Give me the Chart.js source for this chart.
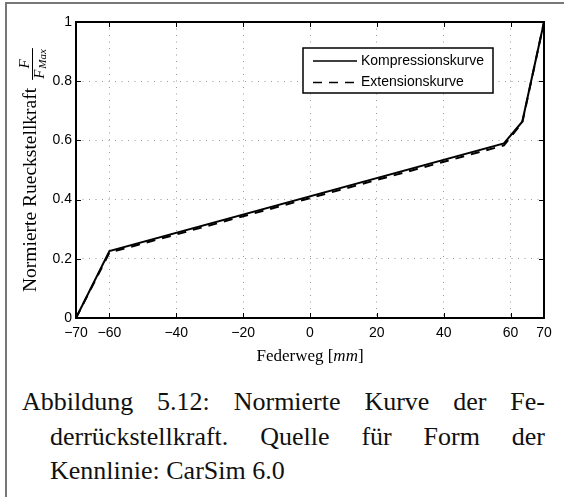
<!DOCTYPE html>
<html>
<head>
<meta charset="utf-8">
<script src="https://cdn.jsdelivr.net/npm/chart.js@4.4.0/dist/chart.umd.min.js"></script>
<style>
  body { margin: 0; background: #fff; }
  #wrap { position: relative; width: 564px; height: 497px; overflow: hidden; background: #fff; }
  #frame { position: absolute; left: 5px; top: 2px; width: 700px; height: 700px;
           border-left: 2px solid #777; border-top: 2px solid #777; }
  #chart { position: absolute; left: 0; top: 0; }
  .cap { position: absolute; font-family: "Liberation Serif", serif; font-size: 26px;
         line-height: 26px; color: #111; white-space: nowrap; }
  .just { white-space: normal; text-align: justify; text-align-last: justify; }
</style>
</head>
<body>
<div id="wrap">
  <div id="frame"></div>
  <canvas id="chart" width="564" height="370"></canvas>
  <div class="cap just" style="left:22px; top:389px; width:523px;">Abbildung 5.12: Normierte Kurve der Fe-</div>
  <div class="cap just" style="left:50px; top:424px; width:495px;">derrückstellkraft. Quelle für Form der</div>
  <div class="cap" style="left:50px; top:458px;">Kennlinie: CarSim 6.0</div>
</div>
<script>
// Federweg in mm, normierte Rueckstellkraft F/FMax
var federweg = [-70, -60, 58, 63.5, 70];
var kompression = [0, 0.226, 0.59, 0.663, 1];
var extension = [0, 0.221, 0.583, 0.66, 1];
var seriesNames = ['Kompressionskurve', 'Extensionskurve'];

var xTicks = [-70, -60, -40, -20, 0, 20, 40, 60, 70];
var yTicks = [0, 0.2, 0.4, 0.6, 0.8, 1];

function points(ys) {
  return federweg.map(function(x, i) { return { x: x, y: ys[i] }; });
}

function fmtX(v) {
  return v < 0 ? '\u2212' + (-v) : String(v);
}

var tickFont = { family: 'Liberation Sans', size: 14 };

// Matlab-like box, inward ticks, legend and the axis titles
var matlabBox = {
  id: 'matlabBox',
  afterDraw: function(chart) {
    var ctx = chart.ctx;
    var a = chart.chartArea;
    var xs = chart.scales.x, ys = chart.scales.y;
    ctx.save();

    ctx.strokeStyle = '#000';
    ctx.lineWidth = 1;
    ctx.beginPath();
    xTicks.forEach(function(v) {
      var px = Math.round(xs.getPixelForValue(v)) + 0.5;
      ctx.moveTo(px, a.bottom); ctx.lineTo(px, a.bottom - 5);
      ctx.moveTo(px, a.top); ctx.lineTo(px, a.top + 5);
    });
    yTicks.forEach(function(v) {
      var py = Math.round(ys.getPixelForValue(v)) + 0.5;
      ctx.moveTo(a.left, py); ctx.lineTo(a.left + 5, py);
      ctx.moveTo(a.right, py); ctx.lineTo(a.right - 5, py);
    });
    ctx.stroke();

    ctx.lineWidth = 2;
    ctx.strokeRect(a.left, a.top, a.right - a.left, a.bottom - a.top);

    // legend
    var lx = a.right - 241, ly = a.top + 26, lw = 190, lh = 45;
    ctx.fillStyle = '#fff';
    ctx.fillRect(lx, ly, lw, lh);
    ctx.lineWidth = 1.5;
    ctx.strokeRect(lx, ly, lw, lh);
    ctx.font = '14px "Liberation Sans"';
    ctx.fillStyle = '#000';
    ctx.textBaseline = 'middle';
    ctx.textAlign = 'left';
    chart.data.datasets.forEach(function(ds, i) {
      var ry = ly + 13 + i * 21.5;
      ctx.lineWidth = 1.5;
      ctx.setLineDash(ds.borderDash || []);
      ctx.beginPath();
      ctx.moveTo(lx + 10, ry); ctx.lineTo(lx + 54, ry);
      ctx.stroke();
      ctx.setLineDash([]);
      ctx.fillText(ds.label, lx + 58, ry);
    });

    // x axis title
    var serif = '"Liberation Serif"';
    ctx.textBaseline = 'alphabetic';
    var t1 = 'Federweg [', t2 = 'mm', t3 = ']';
    ctx.font = '17px ' + serif;
    var w1 = ctx.measureText(t1).width, w3 = ctx.measureText(t3).width;
    ctx.font = 'italic 17px ' + serif;
    var w2 = ctx.measureText(t2).width;
    var sx = (a.left + a.right) / 2 - (w1 + w2 + w3) / 2, by = 361;
    ctx.font = '17px ' + serif;
    ctx.fillText(t1, sx, by);
    ctx.font = 'italic 17px ' + serif;
    ctx.fillText(t2, sx + w1, by);
    ctx.font = '17px ' + serif;
    ctx.fillText(t3, sx + w1 + w2, by);

    // y axis title with fraction F / F_Max
    ctx.translate(32, 292);
    ctx.rotate(-Math.PI / 2);
    ctx.font = '19.5px ' + serif;
    var yt = 'Normierte Rueckstellkraft';
    var wt = ctx.measureText(yt).width;
    ctx.fillText(yt, 0, 4);
    var fx = wt + 8;
    ctx.font = 'italic 15px ' + serif;
    var wF = ctx.measureText('F').width;
    ctx.font = 'italic 11px ' + serif;
    var wM = ctx.measureText('Max').width;
    var wd = wF + wM + 1;
    ctx.lineWidth = 1;
    ctx.beginPath();
    ctx.moveTo(fx, 0.5); ctx.lineTo(fx + wd + 2, 0.5);
    ctx.stroke();
    ctx.font = 'italic 15px ' + serif;
    ctx.fillText('F', fx + 1 + (wd - wF) / 2, -3);
    ctx.fillText('F', fx + 1, 12);
    ctx.font = 'italic 11px ' + serif;
    ctx.fillText('Max', fx + 1 + wF + 1, 14);

    ctx.restore();
  }
};

var chart = new Chart(document.getElementById('chart'), {
  type: 'scatter',
  data: {
    datasets: [
      {
        label: seriesNames[0],
        data: points(kompression),
        showLine: true,
        borderColor: '#000',
        borderWidth: 2,
        pointRadius: 0,
        fill: false
      },
      {
        label: seriesNames[1],
        data: points(extension),
        showLine: true,
        borderColor: '#000',
        borderWidth: 2,
        borderDash: [9, 7],
        pointRadius: 0,
        fill: false
      }
    ]
  },
  options: {
    responsive: false,
    animation: false,
    events: [],
    layout: { padding: { left: 0, top: 22, right: 20, bottom: 0 } },
    plugins: {
      legend: { display: false },
      tooltip: { enabled: false }
    },
    scales: {
      x: {
        type: 'linear',
        min: -70,
        max: 70,
        afterBuildTicks: function(s) { s.ticks = xTicks.map(function(v) { return { value: v }; }); },
        afterFit: function(s) { s.height = 52; },
        ticks: { callback: fmtX, font: tickFont, color: '#000', padding: 7, maxRotation: 0, autoSkip: false },
        grid: { color: '#999', lineWidth: 1, drawTicks: false },
        border: { display: false, dash: [1, 5.5] }
      },
      y: {
        type: 'linear',
        min: 0,
        max: 1,
        afterBuildTicks: function(s) { s.ticks = yTicks.map(function(v) { return { value: v }; }); },
        afterFit: function(s) { s.width = 76; },
        ticks: { callback: function(v) { return String(Math.round(v * 10) / 10); }, font: tickFont, color: '#000', padding: 4, autoSkip: false },
        grid: { color: '#999', lineWidth: 1, drawTicks: false },
        border: { display: false, dash: [1, 5.5] }
      }
    }
  },
  plugins: [matlabBox]
});
</script>
</body>
</html>
